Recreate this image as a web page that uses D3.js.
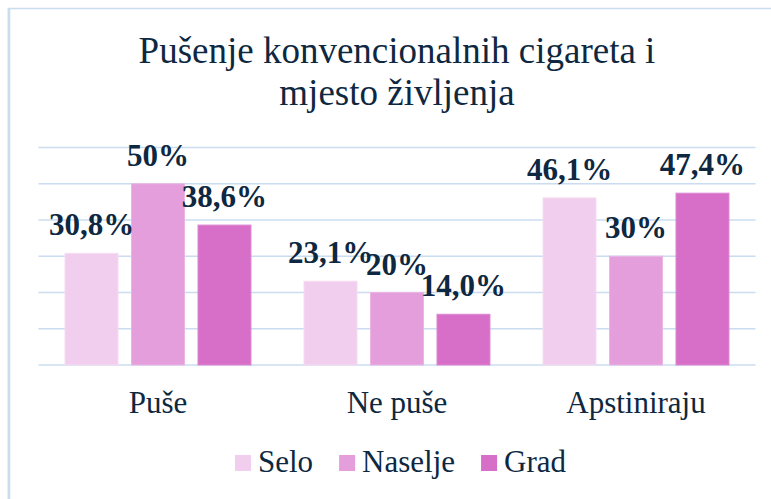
<!DOCTYPE html>
<html><head><meta charset="utf-8">
<script src="https://cdn.jsdelivr.net/npm/d3@7"></script>
<style>
html,body{margin:0;padding:0;background:#fff;}
svg{display:block;}
</style></head>
<body>
<script>
const categories = ["Puše", "Ne puše", "Apstiniraju"];
const seriesNames = ["Selo", "Naselje", "Grad"];
const selo = [30.8, 23.1, 46.1];
const naselje = [50, 20, 30];
const grad = [38.6, 14.0, 47.4];
const labelsSelo = ["30,8%", "23,1%", "46,1%"];
const labelsNaselje = ["50%", "20%", "30%"];
const labelsGrad = ["38,6%", "14,0%", "47,4%"];
const yTicks = [0, 10, 20, 30, 40, 50, 60];
const titleLines = ["Pušenje konvencionalnih cigareta i", "mjesto življenja"];
const colors = ["#F2CEEE", "#E39EDB", "#D76FC9"];
const strokes = ["#F6DCF3", "#EBB6E5", "#DE88D3"];

const W = 771, H = 499;
const textColor = "#0E2841";
const gridColor = "#CADCF0";
const fam = "Liberation Serif, Tinos, Times New Roman, serif";

const series = [selo, naselje, grad];
const labels = [labelsSelo, labelsNaselje, labelsGrad];

function serifText(sel) {
  return sel.attr("font-family", "Liberation Serif").style("font-family", fam, "important");
}

const svg = d3.select("body").append("svg").attr("width", W).attr("height", H);
svg.style("font-family", fam, "important");
svg.append("rect").attr("width", W).attr("height", H).attr("fill", "#fff");

// border
svg.append("rect").attr("x", 8.5).attr("y", 8.5).attr("width", W + 20).attr("height", H + 20)
  .attr("fill", "none").attr("stroke", gridColor).attr("stroke-width", 1.5);
svg.append("line").attr("x1", 9).attr("x2", 9).attr("y1", 8).attr("y2", H)
  .attr("stroke", gridColor).attr("stroke-width", 2.5);

// title
svg.selectAll("text.title").data(titleLines).join("text").attr("class", "title")
  .attr("x", 397).attr("y", (d, i) => 63 + i * 42)
  .attr("text-anchor", "middle")
  .attr("font-size", 37).attr("fill", textColor)
  .call(serifText)
  .text(d => d);

const x0 = d3.scaleBand().domain(categories).range([38.5, 755.5])
  .paddingInner(0.222).paddingOuter(0.111);
const x1 = d3.scaleBand().domain(seriesNames).range([0, x0.bandwidth()])
  .paddingInner(0.203).paddingOuter(0);
const y = d3.scaleLinear().domain([0, 60]).range([365, 147.5]);

// gridlines
svg.selectAll("line.grid").data(yTicks).join("line").attr("class", "grid")
  .attr("x1", 38.5).attr("x2", 755.5)
  .attr("y1", d => y(d)).attr("y2", d => y(d))
  .attr("stroke", gridColor).attr("stroke-width", 1.5);

// bars
const cells = [];
categories.forEach((c, ci) => seriesNames.forEach((s, si) =>
  cells.push({c, s, si, v: series[si][ci], label: labels[si][ci]})));

svg.selectAll("rect.bar").data(cells).join("rect").attr("class", "bar")
  .attr("x", d => x0(d.c) + x1(d.s)).attr("width", x1.bandwidth())
  .attr("y", d => y(d.v)).attr("height", d => y(0) - y(d.v))
  .attr("fill", d => colors[d.si]).attr("stroke", d => strokes[d.si]).attr("stroke-width", 1);

svg.selectAll("text.val").data(cells).join("text").attr("class", "val")
  .attr("x", d => x0(d.c) + x1(d.s) + x1.bandwidth() / 2).attr("y", d => y(d.v) - 18)
  .attr("text-anchor", "middle")
  .attr("font-weight", "bold").attr("font-size", 31)
  .attr("fill", textColor)
  .call(serifText)
  .text(d => d.label);

// category labels
svg.selectAll("text.cat").data(categories).join("text").attr("class", "cat")
  .attr("x", d => x0(d) + x0.bandwidth() / 2).attr("y", 413)
  .attr("text-anchor", "middle")
  .attr("font-size", 31).attr("fill", textColor)
  .call(serifText)
  .text(d => d);

// legend
const ctx = document.createElement("canvas").getContext("2d");
ctx.font = "31px Liberation Serif";
const legendItems = [];
let lx = 235;
seriesNames.forEach((s, i) => {
  legendItems.push({s, i, x: lx});
  lx += 23 + ctx.measureText(s).width + 26;
});
svg.selectAll("rect.leg").data(legendItems).join("rect").attr("class", "leg")
  .attr("x", d => d.x).attr("y", 455).attr("width", 16).attr("height", 16)
  .attr("fill", d => colors[d.i]);
svg.selectAll("text.leg").data(legendItems).join("text").attr("class", "leg")
  .attr("x", d => d.x + 23).attr("y", 472)
  .attr("font-size", 31).attr("fill", textColor)
  .call(serifText)
  .text(d => d.s);
</script>
</body></html>
